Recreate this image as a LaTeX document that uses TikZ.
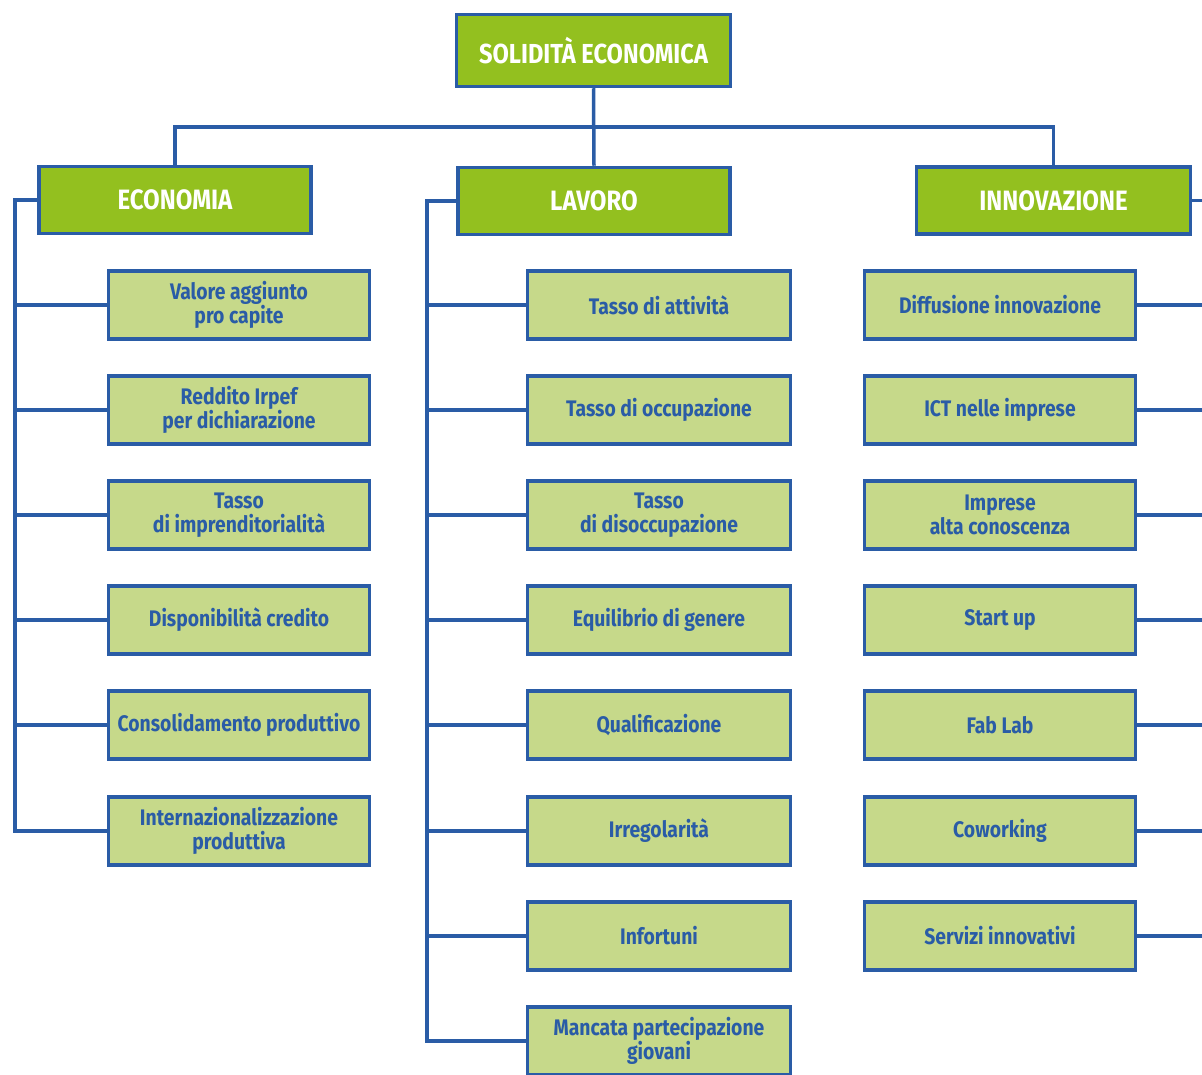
\documentclass[tikz,border=0pt]{standalone}
\usepackage{fontspec}
\setmainfont{Fira Sans}[FakeStretch=0.86]
\definecolor{lineblue}{HTML}{2A5CA6}
\definecolor{darkgreen}{HTML}{93C01F}
\definecolor{lightgreen}{HTML}{C6D98A}
\tikzset{
  headbox/.style={draw=lineblue, line width=3.5pt, fill=darkgreen, text=white,
    font=\fontsize{28}{30}\selectfont\bfseries, minimum width=272pt, minimum height=67pt,
    inner sep=0pt, align=center},
  childbox/.style={draw=lineblue, line width=3.5pt, fill=lightgreen, text=lineblue,
    font=\fontsize{22.5}{24}\selectfont\bfseries, minimum width=261pt, minimum height=68pt,
    inner sep=0pt, align=center},
  conn/.style={draw=lineblue, line width=3.5pt},
}
\begin{document}
\begin{tikzpicture}[x=1pt, y=-1pt]
\useasboundingbox (0,0) rectangle (1202,1075);

% top
\node[headbox, minimum width=274pt, minimum height=72pt, font=\fontsize{27.5}{30}\selectfont\bfseries] (top) at (593.5,50.5) {SOLIDITÀ ECONOMICA};
\node[headbox] (eco) at (175,200) {ECONOMIA};
\node[headbox] (lav) at (594,201) {LAVORO};
\node[headbox, minimum width=274pt] (inn) at (1053.5,200.5) {INNOVAZIONE};

% economia children
\node[childbox] (e1) at (239,305) {Valore aggiunto\\pro capite};
\node[childbox] (e2) at (239,410) {Reddito Irpef\\per dichiarazione};
\node[childbox] (e3) at (239,515) {Tasso\\di imprenditorialità};
\node[childbox] (e4) at (239,620) {Disponibilità credito};
\node[childbox] (e5) at (239,725) {Consolidamento produttivo};
\node[childbox] (e6) at (239,831) {Internazionalizzazione\\produttiva};

% lavoro children
\node[childbox, minimum width=263pt] (l1) at (659,305) {Tasso di attività};
\node[childbox, minimum width=263pt] (l2) at (659,410) {Tasso di occupazione};
\node[childbox, minimum width=263pt] (l3) at (659,515) {Tasso\\di disoccupazione};
\node[childbox, minimum width=263pt] (l4) at (659,620) {Equilibrio di genere};
\node[childbox, minimum width=263pt] (l5) at (659,725) {Qualificazione};
\node[childbox, minimum width=263pt] (l6) at (659,831) {Irregolarità};
\node[childbox, minimum width=263pt] (l7) at (659,936) {Infortuni};
\node[childbox, minimum width=263pt] (l8) at (659,1041) {Mancata partecipazione\\giovani};

% innovazione children
\node[childbox, minimum width=271pt] (i1) at (1000,305) {Diffusione innovazione};
\node[childbox, minimum width=271pt] (i2) at (1000,410) {ICT nelle imprese};
\node[childbox, minimum width=271pt] (i3) at (1000,515) {Imprese\\alta conoscenza};
\node[childbox, minimum width=271pt] (i4) at (1000,620) {Start up};
\node[childbox, minimum width=271pt] (i5) at (1000,725) {Fab Lab};
\node[childbox, minimum width=271pt] (i6) at (1000,831) {Coworking};
\node[childbox, minimum width=271pt] (i7) at (1000,936) {Servizi innovativi};

% spine coordinates
\coordinate (bus) at (594,127);
\coordinate (es) at (15,831);
\coordinate (ls) at (427,1041);
\coordinate (is) at (1216,936);

% connectors
\draw[conn] (top.south) -- (lav.north);
\draw[conn] (eco.north) |- (bus) -| (inn.north);

\draw[conn] (eco.west) -| (es) -- (e6.west);
\foreach \n in {e1,e2,e3,e4,e5}{\draw[conn] (\n.west) -- (\n.west -| es);}

\draw[conn] (lav.west) -| (ls) -- (l8.west);
\foreach \n in {l1,l2,l3,l4,l5,l6,l7}{\draw[conn] (\n.west) -- (\n.west -| ls);}

\draw[conn] (inn.east) -| (is) -- (i7.east);
\foreach \n in {i1,i2,i3,i4,i5,i6}{\draw[conn] (\n.east) -- (\n.east -| is);}
\end{tikzpicture}
\end{document}
